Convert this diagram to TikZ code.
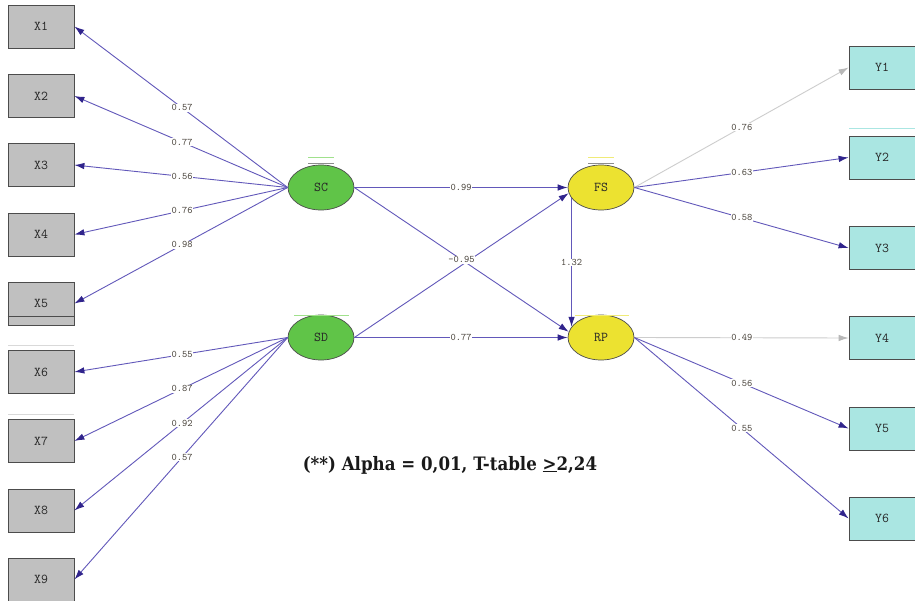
\documentclass[tikz,border=0pt]{standalone}
\usepackage{fontspec}
\setmainfont{DejaVu Serif}[FakeStretch=0.9]
\usetikzlibrary{shapes.geometric,arrows.meta,calc}
\definecolor{boxgray}{RGB}{192,192,192}
\definecolor{boxcyan}{RGB}{170,230,226}
\definecolor{latgreen}{RGB}{96,196,72}
\definecolor{latyellow}{RGB}{236,226,48}
\definecolor{pathblue}{RGB}{98,88,186}
\definecolor{tipblue}{RGB}{48,36,140}
\definecolor{pathgray}{RGB}{205,205,205}
\definecolor{labelc}{RGB}{72,66,58}
\definecolor{barg}{RGB}{160,225,140}
\definecolor{bary}{RGB}{240,235,120}
\begin{document}
\begin{tikzpicture}[x=1pt,y=-1pt,
 obsx/.style={draw=black!70, line width=0.8pt, fill=boxgray, minimum width=66pt, minimum height=43pt, inner sep=0pt, font=\ttfamily\fontsize{13.5}{13.5}\selectfont, text=black!85},
 obsy/.style={obsx, fill=boxcyan},
 latg/.style={ellipse, draw=black!70, line width=0.7pt, fill=latgreen, minimum width=66pt, minimum height=45pt, inner sep=0pt, font=\ttfamily\fontsize{13.5}{13.5}\selectfont, text=black!85},
 laty/.style={latg, fill=latyellow},
 pathb/.style={draw=pathblue, line width=0.9pt, -{Latex[length=10pt,width=6.5pt,color=tipblue]}},
 pathg/.style={draw=pathgray, line width=0.9pt, -{Latex[length=10pt,width=6.5pt,color=pathgray!90!black]}},
 lbl/.style={fill=white, inner sep=0.8pt, font=\ttfamily\fontsize{10}{10}\selectfont, text=labelc},
 artline/.style={line width=0.8pt}
]
\useasboundingbox (0,0) rectangle (915,601);
\fill[white] (0,0) rectangle (915,601);
% observed X
\node[obsx] (X1) at (41,26.5) {X1};
\node[obsx] (X2) at (41,96) {X2};
\node[obsx] (X3) at (41,165) {X3};
\node[obsx] (X4) at (41,234.5) {X4};
\node[obsx] (X5) at (41,303.5) {X5};
\draw[black!70,line width=0.8pt] (X5.west |- 0,316) -- (X5.east |- 0,316);
\node[obsx] (X6) at (41,372) {X6};
\node[obsx] (X7) at (41,441) {X7};
\node[obsx] (X8) at (41,510.5) {X8};
\node[obsx] (X9) at (41,579.5) {X9};
\draw[black!15,artline] (8,345) -- (74,345);
\draw[black!15,artline] (8,414) -- (74,414);
% observed Y
\node[obsy] (Y1) at (882,67.5) {Y1};
\node[obsy] (Y2) at (882,157.5) {Y2};
\node[obsy] (Y3) at (882,248) {Y3};
\node[obsy] (Y4) at (882,338) {Y4};
\node[obsy] (Y5) at (882,428.5) {Y5};
\node[obsy] (Y6) at (882,518.5) {Y6};
\draw[boxcyan,artline] (849,128) -- (915,128);
% latents
\node[latg] (SC) at (321,187.5) {SC};
\node[latg] (SD) at (321,337.5) {SD};
\node[laty] (FS) at (601,187.5) {FS};
\node[laty] (RP) at (601,337.5) {RP};
\draw[barg,artline] (308,157.5) -- (334,157.5);
\draw[black!45,artline] (308,163.5) -- (334,163.5);
\draw[bary,artline] (588,157.5) -- (614,157.5);
\draw[black!45,artline] (588,163.5) -- (614,163.5);
\draw[barg,artline] (294,315) -- (349,315);
\draw[bary,artline] (575,315) -- (629,315);
% SC loadings
\draw[pathb] (SC.west) -- (X1.east) node[lbl,pos=0.495] {0.57};
\draw[pathb] (SC.west) -- (X2.east) node[lbl,pos=0.495] {0.77};
\draw[pathb] (SC.west) -- (X3.east) node[lbl,pos=0.495] {0.56};
\draw[pathb] (SC.west) -- (X4.east) node[lbl,pos=0.495] {0.76};
\draw[pathb] (SC.west) -- (X5.east) node[lbl,pos=0.495] {0.98};
% SD loadings
\draw[pathb] (SD.west) -- (X6.east) node[lbl,pos=0.495] {0.55};
\draw[pathb] (SD.west) -- (X7.east) node[lbl,pos=0.495] {0.87};
\draw[pathb] (SD.west) -- (X8.east) node[lbl,pos=0.495] {0.92};
\draw[pathb] (SD.west) -- (X9.east) node[lbl,pos=0.495] {0.57};
% structural paths
\draw[pathb] (SC.east) -- (FS.west) node[lbl,pos=0.5] {0.99};
\draw[pathb] (SD.east) -- (FS.190);
\draw[pathb] (SC.east) -- (RP.170) node[lbl,pos=0.5] {-0.95};
\draw[pathb] (SD.east) -- (RP.west) node[lbl,pos=0.5] {0.77};
\draw[pathb] (FS.200) -- (FS.200 |- RP.160) node[lbl,pos=0.5] {1.32};
% FS loadings
\draw[pathg] (FS.east) -- (Y1.west) node[lbl,pos=0.502] {0.76};
\draw[pathb] (FS.east) -- (Y2.west) node[lbl,pos=0.502] {0.63};
\draw[pathb] (FS.east) -- (Y3.west) node[lbl,pos=0.502] {0.58};
% RP loadings
\draw[pathg] (RP.east) -- (Y4.west) node[lbl,pos=0.502] {0.49};
\draw[pathb] (RP.east) -- (Y5.west) node[lbl,pos=0.502] {0.56};
\draw[pathb] (RP.east) -- (Y6.west) node[lbl,pos=0.502] {0.55};
% note
\node[font=\bfseries\fontsize{18.5}{18.5}\selectfont, text=black!90] (note) at (450,465) {(**) Alpha = 0,01, T-table \underline{>}2,24};
\end{tikzpicture}
\end{document}
